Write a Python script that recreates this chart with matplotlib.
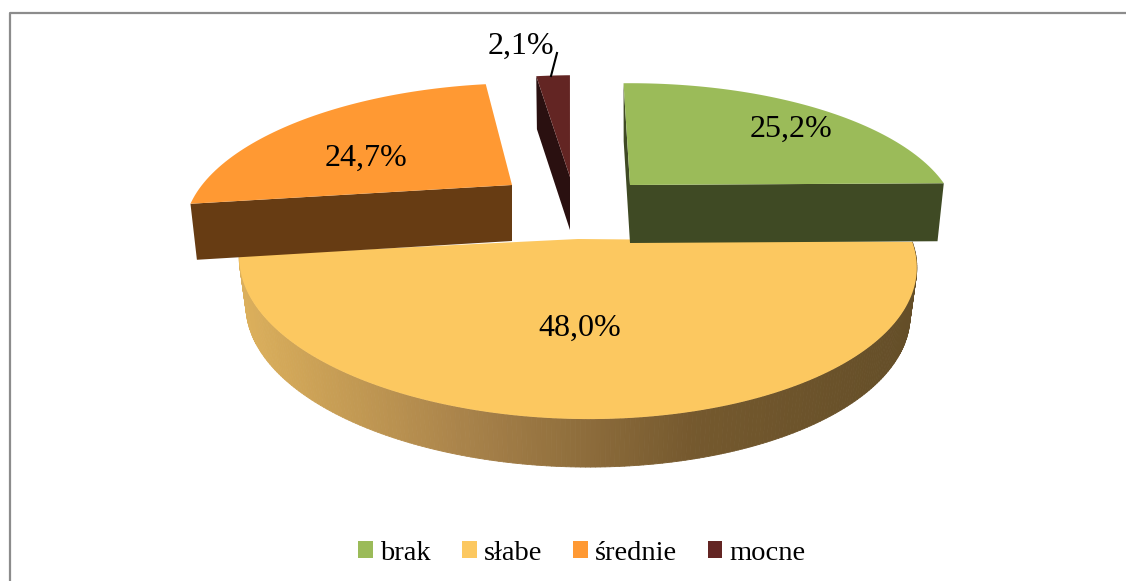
import numpy as np
import matplotlib
matplotlib.use("Agg")
import matplotlib.pyplot as plt
from matplotlib.collections import PolyCollection
from matplotlib.colors import LinearSegmentedColormap
from matplotlib.path import Path
from matplotlib.transforms import Affine2D, Transform

labels = ["brak", "słabe", "średnie", "mocne"]
values = [25.2, 48.0, 24.7, 2.1]
colors = ["#9BBB59", "#FCC860", "#FF9933", "#632523"]
side_colors = ["#3F4A24", "#FCC860", "#673C13", "#2A1010"]

# fake 3d geometry of each slice, in pixels
apex_x = [630, 578, 512, 570]
apex_y = [185, 239, 185, 177]
width = [315, 335, 310, 326]
flat = [130, 153, 130, 130]
persp = [0.277, 0.15, 0.277, 0.277]
depth = [58, 48, 56, 53]
lean = [0, 0, -0.12, -0.065]
tilt = [0, 0.015, 0, 0]
label_x = [791, 580, 366, 521]
label_y = [129, 328, 158, 46]

SHRINK = 0.98


def project(x, y, i):
    w = 1 + persp[i] * y
    sy = -flat[i] * y / w
    sx = width[i] * x / w + lean[i] * sy
    return apex_x[i] + sx, apex_y[i] + sy + tilt[i] * sx


class Persp(Transform):
    input_dims = 2
    output_dims = 2

    def __init__(self, i):
        super().__init__()
        self.i = i

    def transform_non_affine(self, values):
        sx, sy = project(values[:, 0], values[:, 1], self.i)
        return np.column_stack([sx, sy])

    def transform_path_non_affine(self, path):
        # flatten the arcs first, bezier points dont survive the projection
        big = Affine2D().scale(1000).transform_path(path)
        pts = big.to_polygons(closed_only=False)[0] / 1000
        return Path(self.transform_non_affine(pts))


def bottom(sx, sy, i):
    return apex_x[i] + (sx - apex_x[i]) * SHRINK, sy + depth[i]


def side_wall(ax, theta, i):
    t = np.radians(theta)
    x0, y0 = project(np.cos(t), np.sin(t), i)
    x1, y1 = bottom(x0, y0, i)
    x2, y2 = bottom(apex_x[i], apex_y[i], i)
    ax.fill([apex_x[i], x0, x1, x2], [apex_y[i], y0, y1, y2],
            color=side_colors[i], lw=0, zorder=3)


fig = plt.figure(figsize=(11.26, 5.81), dpi=100)
ax = fig.add_axes([0, 0, 1, 1])
plt.rcParams["font.family"] = ["Liberation Serif", "DejaVu Sans"]

wedges, _ = ax.pie(values, colors=colors, startangle=91.5, counterclock=False,
                   wedgeprops={"lw": 0})
ax.set_aspect("auto")
ax.set_xlim(0, 1126)
ax.set_ylim(581, 0)
ax.axis("off")

for i, wd in enumerate(wedges):
    wd.set_transform(Persp(i) + ax.transData)
    wd.set_zorder(2 if i == 1 else 4)

# cut faces, these sit in front of the big slice
side_wall(ax, wedges[0].theta1, 0)
side_wall(ax, wedges[0].theta2, 0)
side_wall(ax, wedges[2].theta2, 2)
side_wall(ax, wedges[3].theta2, 3)

# round front wall of the big slice, light on the left and dark on the right
shade = LinearSegmentedColormap.from_list(
    "wall", ["#DCB05C", "#A8824A", "#75592E", "#644E28"])
t = np.radians(np.linspace(wedges[1].theta1, wedges[1].theta2, 240))
tx, ty = project(np.cos(t), np.sin(t), 1)
bx, by = bottom(tx, ty, 1)
quads = [[(tx[j], ty[j]), (tx[j + 1], ty[j + 1]), (bx[j + 1], by[j + 1]), (bx[j], by[j])]
         for j in range(len(t) - 1)]
left, right = tx.min(), tx.max()
cols = [shade((tx[j] - left) / (right - left)) for j in range(len(t) - 1)]
ax.add_collection(PolyCollection(quads, facecolors=cols, edgecolors=cols, lw=0.6, zorder=1))

for i, v in enumerate(values):
    txt = f"{v:.1f}".replace(".", ",") + "%"
    ax.text(label_x[i], label_y[i], txt, fontsize=23, ha="center", va="center",
            color="black", zorder=6)

# leader line of the small slice
ax.plot([557, 551], [53, 76], color="black", lw=1.5, zorder=6)

# chart area border, only top and left are in the picture
ax.plot([9.5, 9.5, 1126], [581, 12.5, 12.5], color="#8C8C8C", lw=1.6, zorder=6, clip_on=False)

ax.legend(wedges, labels, ncol=4, frameon=False, fontsize=20.5,
          loc="center", bbox_to_anchor=(582 / 1126, 1 - 553 / 581),
          handlelength=0.52, handleheight=0.52, handletextpad=0.25,
          columnspacing=1.08, borderpad=0)

fig.savefig("out.png", dpi=100, facecolor="white")
